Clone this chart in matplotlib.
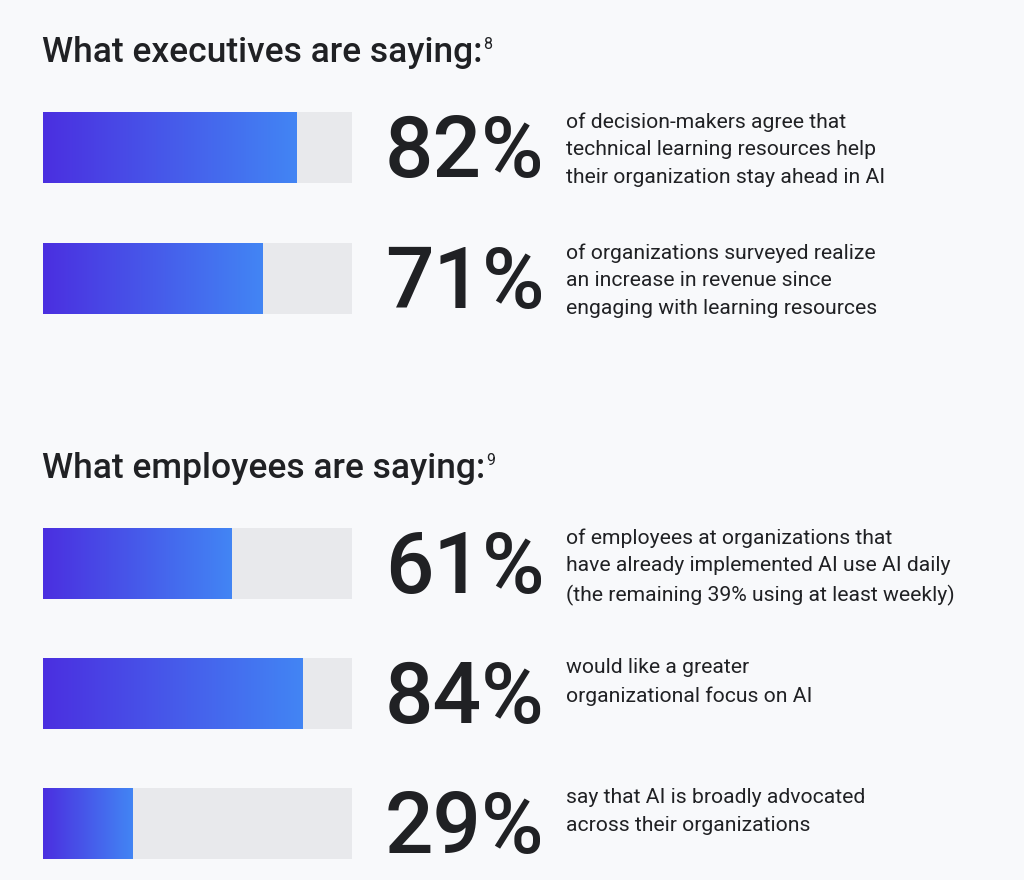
import numpy as np
import matplotlib.pyplot as plt
from matplotlib.colors import LinearSegmentedColormap

# section headings
headings = ["What executives are saying:", "What employees are saying:"]
footnotes = ["8", "9"]

# stats per row
values = [82, 71, 61, 84, 29]
labels = ["82%", "71%", "61%", "84%", "29%"]
captions = [
    "of decision-makers agree that\ntechnical learning resources help\ntheir organization stay ahead in AI",
    "of organizations surveyed realize\nan increase in revenue since\nengaging with learning resources",
    "of employees at organizations that\nhave already implemented AI use AI daily\n(the remaining 39% using at least weekly)",
    "would like a greater\norganizational focus on AI",
    "say that AI is broadly advocated\nacross their organizations",
]

W, H = 1024, 880
BG = "#F8F9FB"
TRACK = "#E8E9EC"
INK = "#202124"
FONT = ["Roboto", "DejaVu Sans"]

grad = LinearSegmentedColormap.from_list("g", ["#4B2FE0", "#4285F4"])

fig = plt.figure(figsize=(W / 100, H / 100), dpi=100, facecolor=BG)


def fx(px):
    return px / W


def fy(py):
    return 1 - py / H


# heading positions (baseline y in px)
head_y = [62, 478]
for t, sup, y in zip(headings, footnotes, head_y):
    txt = fig.text(fx(42), fy(y), t, fontsize=25.5, color=INK, family=FONT,
                   fontweight="medium", va="baseline")
    fig.canvas.draw()
    bb = txt.get_window_extent()
    fig.text(bb.x1 / W + 0.001, fy(y - 13), sup, fontsize=11.5, color=INK,
             family=FONT, va="baseline")

# bar rows: top pixel of each bar
bar_top = [112, 243, 528, 658, 788]
bar_h = 71
for v, lab, cap, top in zip(values, labels, captions, bar_top):
    ax = fig.add_axes([fx(43), fy(top + bar_h), fx(309), bar_h / H])
    ax.set_xlim(0, 100)
    ax.set_ylim(-0.5, 0.5)
    ax.barh(0, 100, height=1, color=TRACK)
    ax.imshow(np.linspace(0, 1, 256).reshape(1, -1), cmap=grad, aspect="auto",
              extent=[0, v, -0.5, 0.5], zorder=2)
    ax.axis("off")

    mid = top + bar_h / 2
    fig.text(fx(385), fy(mid + 29.5), lab, fontsize=61.5, color=INK, family=FONT,
             fontweight="medium", va="baseline")
    fig.text(fx(566), fy(top), cap, fontsize=15.2, color=INK, family=FONT,
             va="top", linespacing=1.58)

fig.savefig("out.png", dpi=100, facecolor=BG)
